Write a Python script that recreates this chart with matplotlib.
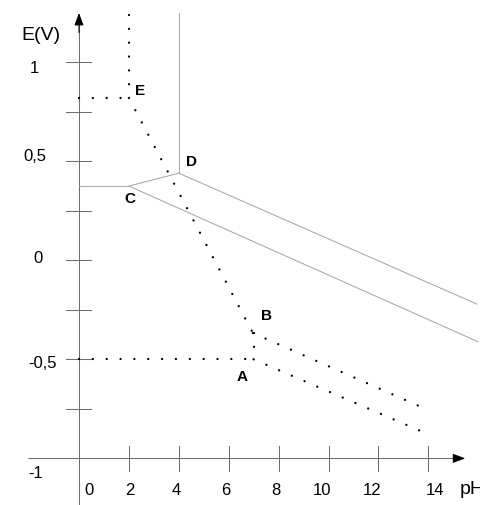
import matplotlib
matplotlib.use("Agg")
import matplotlib.pyplot as plt

plt.rcParams['lines.scale_dashes'] = False
plt.rcParams['font.family'] = ['Liberation Sans', 'DejaVu Sans']

# ---- data (pH, E in V) ----
# solid boundary lines
solid_vert_pH = [4.0, 4.0];   solid_vert_E = [1.25, 0.44]          # above D
solid_hor_pH = [0.0, 2.0];    solid_hor_E = [0.375, 0.375]          # axis -> C
solid_CD_pH = [2.0, 4.0];     solid_CD_E = [0.375, 0.44]            # C -> D
solid_D_pH = [4.0, 15.95];    solid_D_E = [0.44, -0.221]            # D -> right
solid_C_pH = [2.0, 15.99];    solid_C_E = [0.375, -0.411]           # C -> right

# dotted lines
dot_vert_top_pH = [2.0, 2.0];   dot_vert_top_E = [1.24, 0.82]
dot_hor_top_pH = [0.0, 2.0];    dot_hor_top_E = [0.82, 0.82]
dot_EB_pH = [2.0, 6.97];        dot_EB_E = [0.82, -0.367]
dot_BA_pH = [7.0, 7.0];         dot_BA_E = [-0.367, -0.50]
dot_hor_bot_pH = [0.0, 7.0];    dot_hor_bot_E = [-0.50, -0.50]
dot_B_right_pH = [6.97, 13.69]; dot_B_right_E = [-0.367, -0.739]
dot_A_right_pH = [7.0, 13.70];  dot_A_right_E = [-0.50, -0.862]

# point labels
pt_names = ['E', 'D', 'C', 'B', 'A']
pt_pH = [2.46, 4.52, 2.02, 7.51, 6.52]
pt_E = [0.855, 0.496, 0.31, -0.281, -0.59]

# ticks
x_ticks = [2, 4, 6, 8, 10, 12, 14]
x_tick_labels = ['0', '2', '4', '6', '8', '10', '12', '14']
x_label_pos = [0.40, 2.04, 3.89, 5.89, 7.90, 9.74, 11.74, 14.27]
y_ticks = [1.0, 0.75, 0.5, 0.25, 0.0, -0.25, -0.5, -0.75]
y_tick_labels = ['1', '0,5', '0', '-0,5', '-1']
y_label_pos = [0.971, 0.522, 0.008, -0.519, -1.074]
y_label_x = [-1.77, -1.77, -1.65, -1.48, -1.73]

# ---- figure ----
fig = plt.figure(figsize=(4.81, 5.05), dpi=100)
ax = fig.add_axes([0, 0, 1, 1])
ax.set_xlim(-3.166, 16.112)
ax.set_ylim(-1.2355, 1.3146)
ax.axis('off')

axis_col = '#6e6e6e'
line_col = '#a8a8a8'

# axes
ax.plot([-2.03, 15.4], [-1.0, -1.0], color=axis_col, lw=0.75, solid_capstyle='butt')
ax.plot([0, 0], [-1.24, 1.20], color=axis_col, lw=0.75, solid_capstyle='butt')
ax.annotate('', xy=(15.48, -1.0), xytext=(15.0, -1.0),
            arrowprops=dict(arrowstyle='-|>,head_length=0.75,head_width=0.28',
                            color='black', lw=0.75, shrinkA=0, shrinkB=0))
ax.annotate('', xy=(0, 1.249), xytext=(0, 1.15),
            arrowprops=dict(arrowstyle='-|>,head_length=0.75,head_width=0.28',
                            color='black', lw=0.75, shrinkA=0, shrinkB=0))

# ticks
for t in x_ticks:
    ax.plot([t, t], [-0.94, -1.066], color=axis_col, lw=0.75)
for t in y_ticks:
    ax.plot([-0.52, 0.47], [t, t], color=axis_col, lw=0.75)

# tick labels
for lab, p in zip(x_tick_labels, x_label_pos):
    ax.text(p, -1.163, lab, ha='center', va='center', fontsize=12, color='black')
for lab, p, xx in zip(y_tick_labels, y_label_pos, y_label_x):
    ax.text(xx, p, lab, ha='center', va='center', fontsize=12, color='black')

ax.text(-2.30, 1.135, 'E(V)', ha='left', va='center', fontsize=14, color='black')
ax.text(15.27, -1.155, 'pH', ha='left', va='center', fontsize=14, color='black')

# solid boundary lines
for xs, ys in [(solid_vert_pH, solid_vert_E), (solid_hor_pH, solid_hor_E),
               (solid_CD_pH, solid_CD_E), (solid_D_pH, solid_D_E),
               (solid_C_pH, solid_C_E)]:
    ax.plot(xs, ys, color=line_col, lw=0.75)

# dotted lines
dotstyle = dict(color='black', lw=1.7, linestyle=(0, (0.001, 9.97)),
                dash_capstyle='round')
for xs, ys in [(dot_vert_top_pH, dot_vert_top_E), (dot_hor_top_pH, dot_hor_top_E),
               (dot_EB_pH, dot_EB_E), (dot_BA_pH, dot_BA_E),
               (dot_hor_bot_pH, dot_hor_bot_E), (dot_B_right_pH, dot_B_right_E),
               (dot_A_right_pH, dot_A_right_E)]:
    ax.plot(xs, ys, **dotstyle)

for n, px, py in zip(pt_names, pt_pH, pt_E):
    ax.text(px, py, n, ha='center', va='center', fontsize=11,
            fontweight='bold', color='black')

fig.savefig('out.png', dpi=100)
